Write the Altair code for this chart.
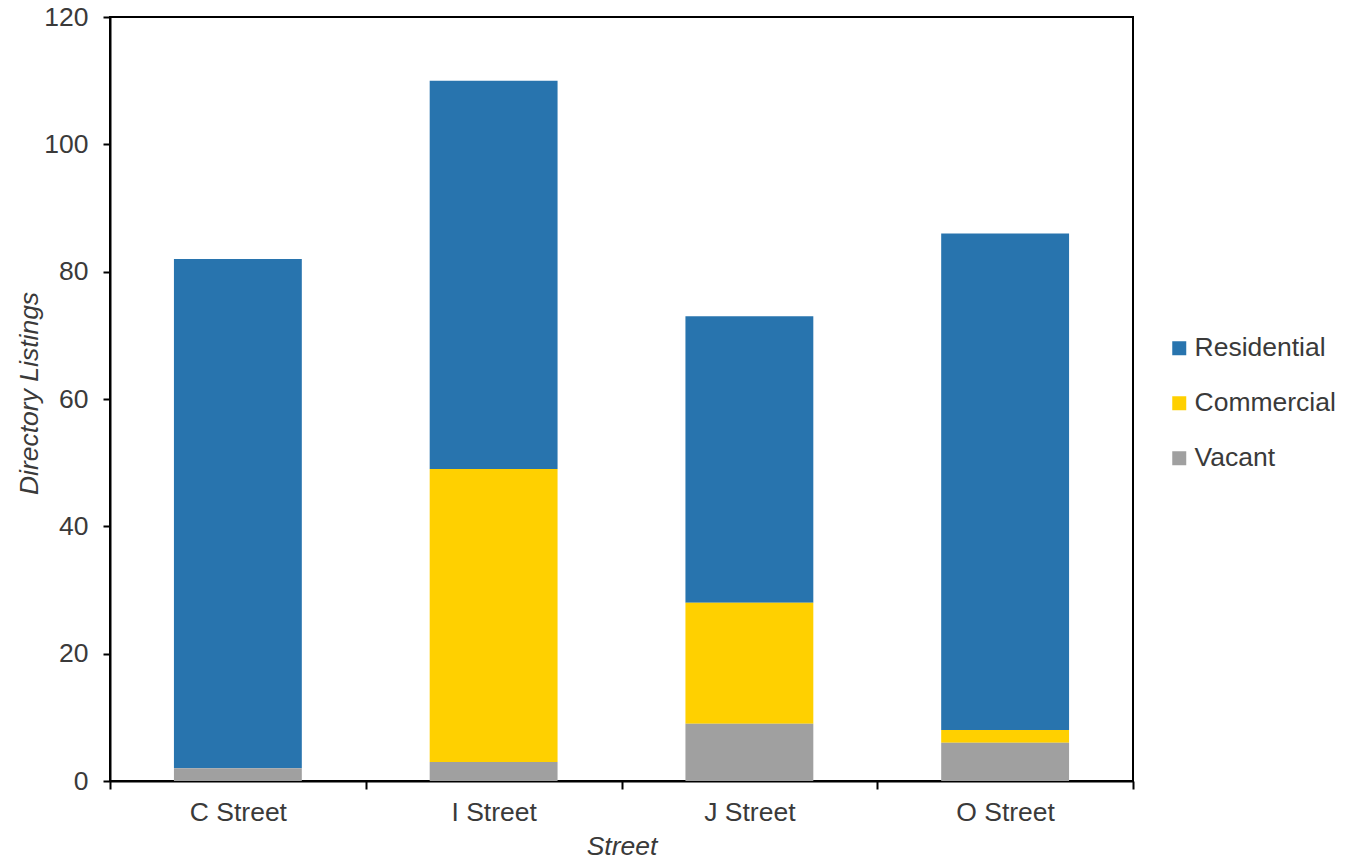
import altair as alt
import pandas as pd

streets = ["C Street", "I Street", "J Street", "O Street"]
residential = [80, 61, 45, 78]
commercial = [0, 46, 19, 2]
vacant = [2, 3, 9, 6]

categories = ["Residential", "Commercial", "Vacant"]
colors = ["#2874AE", "#FFD000", "#A0A0A0"]
stack_rank = {"Vacant": 0, "Commercial": 1, "Residential": 2}

rows = []
for i, s in enumerate(streets):
    for cat, vals in (("Residential", residential), ("Commercial", commercial), ("Vacant", vacant)):
        rows.append({"Street": s, "Type": cat, "Listings": vals[i], "rank": stack_rank[cat]})
df = pd.DataFrame(rows)

FONT = "Liberation Sans"
TXT = "#3a3a3a"
FS = 26.5

chart = alt.Chart(df).mark_bar(width={"band": 0.5}).encode(
    x=alt.X("Street:N", sort=streets,
            scale=alt.Scale(paddingInner=0, paddingOuter=0),
            axis=alt.Axis(title="Street", labelAngle=0, tickBand="extent",
                          tickSize=8, tickWidth=2, tickColor="black",
                          domainColor="black", domainWidth=2,
                          labelFontSize=FS, labelFont=FONT, labelColor=TXT, labelPadding=10,
                          titleFontSize=FS, titleFont=FONT, titleColor=TXT, titleFontStyle="italic",
                          titleFontWeight="normal", titleY=65, titleBaseline="middle")),
    y=alt.Y("Listings:Q", stack="zero",
            scale=alt.Scale(domain=[0, 120], nice=False),
            axis=alt.Axis(title="Directory Listings", values=[0, 20, 40, 60, 80, 100, 120],
                          grid=False, tickSize=7, tickWidth=2, tickColor="black",
                          domainColor="black", domainWidth=2,
                          labelFontSize=FS, labelFont=FONT, labelColor=TXT, labelPadding=15,
                          titleFontSize=FS, titleFont=FONT, titleColor=TXT, titleFontStyle="italic",
                          titleFontWeight="normal", titleAngle=270, titleX=-81, titleY=376,
                          titleAlign="center", titleBaseline="middle")),
    color=alt.Color("Type:N", scale=alt.Scale(domain=categories, range=colors),
                    legend=alt.Legend(title=None, orient="none", legendX=1056, legendY=318,
                                      symbolType="square", symbolSize=196, symbolStrokeWidth=0,
                                      labelFontSize=FS, labelFont=FONT, labelColor=TXT,
                                      labelOffset=2, rowPadding=28)),
    order=alt.Order("rank:Q", sort="ascending"),
).properties(
    width=1023, height=764,
    autosize=alt.AutoSizeParams(type="none"),
    padding={"left": 110, "top": 17, "right": 215, "bottom": 80},
).configure_view(stroke="black", strokeWidth=2)

chart.save("out.html", embed_options={"renderer": "svg", "actions": False})
